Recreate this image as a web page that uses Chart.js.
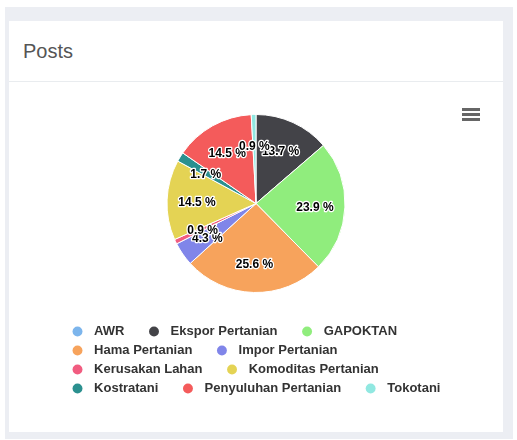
<!DOCTYPE html>
<html><head><meta charset="utf-8">
<script src="https://cdn.jsdelivr.net/npm/chart.js@4.4.0/dist/chart.umd.min.js"></script>
<style>
html,body{margin:0;padding:0;background:#fff;width:517px;height:440px;overflow:hidden;}
#bg{position:absolute;left:5px;top:7px;width:508px;height:432px;background:#eceef3;}
#card{position:absolute;left:9px;top:21px;width:494px;height:411px;background:#fff;}
#title{position:absolute;left:14px;top:20px;font:20px/20px "Liberation Sans",Arial,sans-serif;color:#555;}
#rule{position:absolute;left:0;top:60px;width:494px;height:1px;background:#e9ecef;}
#menu{position:absolute;left:453px;top:87px;width:18px;z-index:2;}
#menu div{height:2.5px;background:#666;margin-bottom:2.5px;}
#wrap{position:absolute;left:0;top:61px;width:494px;height:350px;}
</style></head>
<body>
<div id="bg"></div>
<div id="card">
  <div id="title">Posts</div>
  <div id="rule"></div>
  <div id="menu"><div></div><div></div><div></div></div>
  <div id="wrap"><canvas id="c" width="494" height="350"></canvas></div>
</div>
<script>
const categories = ["AWR","Ekspor Pertanian","GAPOKTAN","Hama Pertanian","Impor Pertanian","Kerusakan Lahan","Komoditas Pertanian","Kostratani","Penyuluhan Pertanian","Tokotani"];
const values = [0,16,28,30,5,1,17,2,17,1];
const colors = ["#7cb5ec","#434348","#90ed7d","#f7a35c","#8085e9","#f15c80","#e4d354","#2b908f","#f45b5b","#91e8e1"];

const LEGEND_LEFT = 56;

const pctLabels = {
  id:'pctLabels',
  afterDatasetsDraw(chart){
    const ctx = chart.ctx;
    const meta = chart.getDatasetMeta(0);
    const data = chart.data.datasets[0].data;
    const total = data.reduce((a,b)=>a+b,0);
    ctx.save();
    ctx.font = 'bold 12px "Liberation Sans", Arial, sans-serif';
    ctx.textAlign = 'center';
    ctx.textBaseline = 'middle';
    ctx.lineJoin = 'round';
    ctx.lineWidth = 2.5;
    ctx.strokeStyle = '#ffffff';
    ctx.fillStyle = '#000000';
    meta.data.forEach((arc,i)=>{
      if(!data[i]) return;
      const p = arc.getProps(['x','y','startAngle','endAngle','outerRadius'], true);
      const mid = (p.startAngle + p.endAngle)/2;
      const r = p.outerRadius - 30;
      const tx = p.x + Math.cos(mid)*r;
      const ty = p.y + Math.sin(mid)*r + 2;
      const txt = (data[i]/total*100).toFixed(1) + ' %';
      ctx.strokeText(txt, tx, ty);
      ctx.fillText(txt, tx, ty);
    });
    ctx.restore();
  }
};

const legendShift = {
  id:'legendShift',
  afterLayout(chart){
    const lg = chart.legend;
    const w = lg.right - lg.left;
    lg.left = LEGEND_LEFT;
    lg.right = LEGEND_LEFT + w;
  }
};

new Chart(document.getElementById('c'), {
  type:'pie',
  data:{
    labels: categories,
    datasets:[{
      data: values,
      backgroundColor: colors,
      borderColor:'#ffffff',
      borderWidth:1,
      hoverOffset:0,
      radius:89
    }]
  },
  options:{
    responsive:false,
    animation:false,
    layout:{padding:{top:6,bottom:27,left:34,right:34}},
    plugins:{
      tooltip:{enabled:false},
      legend:{
        position:'bottom',
        align:'start',
        labels:{
          usePointStyle:true,
          pointStyle:'circle',
          boxWidth:13,
          boxHeight:7,
          padding:6,
          color:'#333333',
          font:{family:'"Liberation Sans", Arial, sans-serif', size:13, weight:'bold'},
          generateLabels(chart){
            const items = Chart.overrides.doughnut.plugins.legend.labels.generateLabels(chart);
            return items.map(it => Object.assign({}, it, {text:' ' + it.text + '    \u2009', lineWidth:0, pointStyle:'circle'}));
          }
        }
      }
    }
  },
  plugins:[pctLabels, legendShift]
});
</script>
</body></html>
